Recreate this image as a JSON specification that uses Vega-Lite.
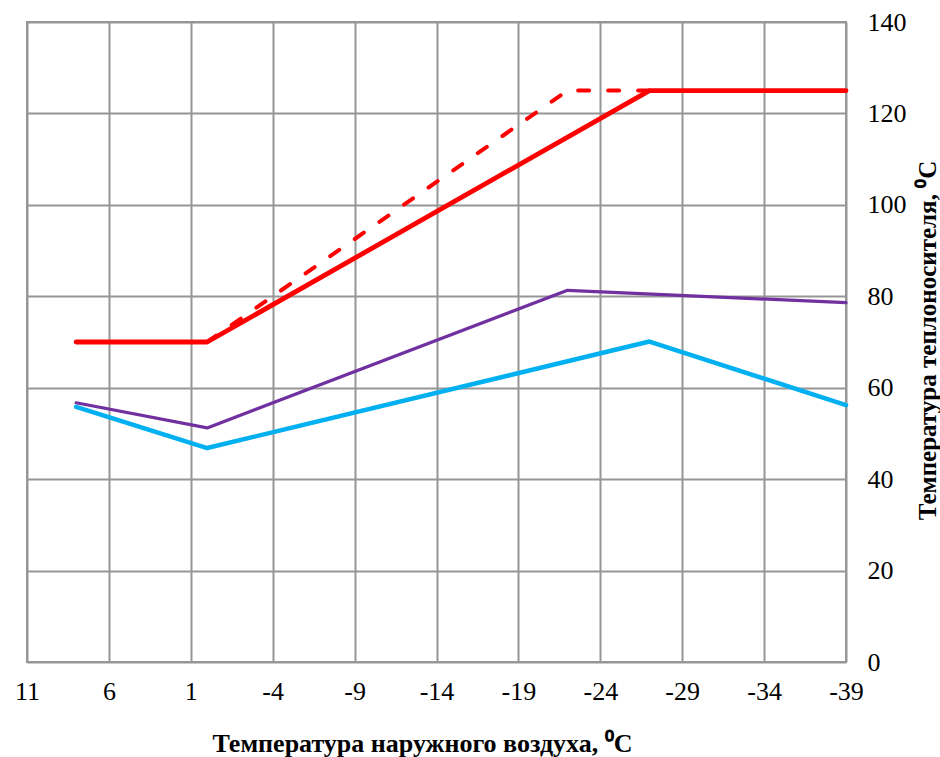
{
  "$schema": "https://vega.github.io/schema/vega-lite/v6.json",
  "autosize": "none",
  "width": 819,
  "height": 640,
  "padding": {"left": 27, "top": 22, "right": 94, "bottom": 95},
  "background": "white",
  "config": {
    "view": {"stroke": "#969696", "strokeWidth": 2},
    "font": "Liberation Serif"
  },
  "data": {
    "values": [
      {"s": "red", "t": 8, "v": 70},
      {"s": "red", "t": 0, "v": 70},
      {"s": "red", "t": -27, "v": 125},
      {"s": "red", "t": -39, "v": 125},
      {"s": "reddash", "t": 0, "v": 70},
      {"s": "reddash", "t": -22, "v": 125},
      {"s": "reddash", "t": -27, "v": 125},
      {"s": "blue", "t": 8, "v": 55.8},
      {"s": "blue", "t": 0, "v": 46.8},
      {"s": "blue", "t": -27, "v": 70.1},
      {"s": "blue", "t": -39, "v": 56.2},
      {"s": "purple", "t": 8, "v": 56.7},
      {"s": "purple", "t": 0, "v": 51.2},
      {"s": "purple", "t": -22, "v": 81.3},
      {"s": "purple", "t": -39, "v": 78.6}
    ]
  },
  "encoding": {
    "x": {
      "field": "t", "type": "quantitative",
      "scale": {"domain": [11, -39], "nice": false, "zero": false},
      "axis": {
        "values": [11, 6, 1, -4, -9, -14, -19, -24, -29, -34, -39],
        "labelExpr": "'' + datum.value",
        "grid": true, "gridColor": "#969696", "gridWidth": 2,
        "domain": false, "ticks": false,
        "labelFont": "Liberation Serif", "labelFontSize": 26, "labelColor": "#000",
        "labelPadding": 16, "labelFlush": false,
        "title": "Температура наружного воздуха, ⁰C",
        "titleFont": "Liberation Serif", "titleFontSize": 26, "titleFontWeight": "bold", "titleColor": "#000",
        "titlePadding": 26, "titleX": 395
      }
    },
    "y": {
      "field": "v", "type": "quantitative",
      "scale": {"domain": [0, 140], "nice": false},
      "axis": {
        "orient": "right",
        "values": [0, 20, 40, 60, 80, 100, 120, 140],
        "grid": true, "gridColor": "#969696", "gridWidth": 2,
        "domain": false, "ticks": false,
        "labelFont": "Liberation Serif", "labelFontSize": 26, "labelColor": "#000",
        "labelPadding": 21, "labelAlign": "left",
        "title": "Температура теплоносителя, ⁰C",
        "titleFont": "Liberation Serif", "titleFontSize": 25, "titleFontWeight": "bold", "titleColor": "#000",
        "titleAngle": 270, "titleX": 81, "titleY": 318, "titleAlign": "center", "titleBaseline": "middle"
      }
    },
    "order": {"field": "t", "sort": "descending"}
  },
  "layer": [
    {
      "transform": [{"filter": "datum.s == 'blue'"}],
      "mark": {"type": "line", "color": "#00B0F0", "strokeWidth": 4.5, "strokeCap": "round", "strokeJoin": "round"}
    },
    {
      "transform": [{"filter": "datum.s == 'purple'"}],
      "mark": {"type": "line", "color": "#7030A0", "strokeWidth": 3.2, "strokeCap": "round", "strokeJoin": "round"}
    },
    {
      "transform": [{"filter": "datum.s == 'reddash'"}],
      "mark": {"type": "line", "color": "#FF0000", "strokeWidth": 4, "strokeCap": "round", "strokeJoin": "round", "strokeDash": [11, 19]}
    },
    {
      "transform": [{"filter": "datum.s == 'red'"}],
      "mark": {"type": "line", "color": "#FF0000", "strokeWidth": 4.8, "strokeCap": "round", "strokeJoin": "round"}
    }
  ]
}
